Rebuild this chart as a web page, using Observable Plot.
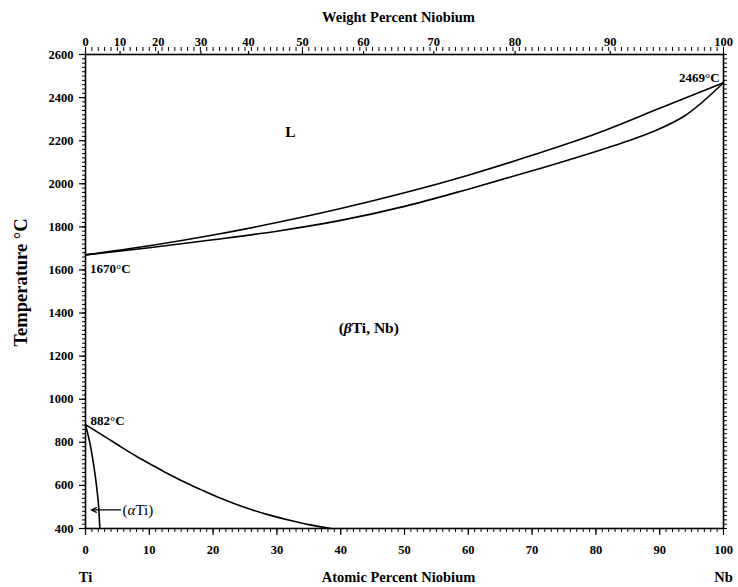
<!DOCTYPE html>
<html><head><meta charset="utf-8">
<script src="https://cdn.jsdelivr.net/npm/d3@7"></script>
<script src="https://cdn.jsdelivr.net/npm/@observablehq/plot@0.6"></script>
<style>
body{margin:0;background:#fff}
svg{display:block}
svg, svg text {font-family: "Liberation Serif", "Times New Roman", serif !important;}
</style>
</head><body><div id="chart"></div>
<script>
// Liquidus (upper curve)
const liqAt = [0, 10, 20, 30, 40, 50, 60, 70, 80, 90, 100];
const liqT  = [1670, 1712, 1762, 1820, 1885, 1958, 2040, 2132, 2232, 2350, 2469];
// Solidus (lower curve)
const solAt = [0, 10, 20, 30, 40, 50, 60, 70, 80, 85, 90, 94, 100];
const solT  = [1670, 1703, 1740, 1780, 1830, 1895, 1975, 2060, 2150, 2198, 2255, 2317, 2469];
// (betaTi) / (alphaTi)+(betaTi) transus
const transAt = [0, 2.9, 5.5, 8.1, 10.7, 13.3, 15.9, 18.5, 21.2, 23.8, 26.4, 29, 32, 35, 38.5];
const transT  = [882, 829, 780, 733, 690, 648, 610, 575, 540, 510, 484, 461, 438, 418, 400];
// (alphaTi) solvus
const solvAt = [0, 0.8, 1.4, 1.8, 2.1, 2.25];
const solvT  = [882, 780, 671, 579, 486, 400];

// Axis tick labels
const atTicks = [0, 10, 20, 30, 40, 50, 60, 70, 80, 90, 100];
const wtTicks = [0, 10, 20, 30, 40, 50, 60, 70, 80, 90, 100];
const tTicks  = [400, 600, 800, 1000, 1200, 1400, 1600, 1800, 2000, 2200, 2400, 2600];
const atMinor = d3.range(0, 101, 1);
const tMinor  = d3.range(400, 2601, 20);

// Annotations (data coordinates: at.% Nb, °C)
const startLabels = [
  {x: 0.7, y: 1603, text: "1670°C"},
  {x: 0.8, y: 899, text: "882°C"}
];
const endLabels = [{x: 99.4, y: 2490, text: "2469°C"}];
const phaseLabels = [
  {x: 32.1, y: 2240, text: "L"},
  {x: 44.4, y: 1331, text: "(βTi, Nb)"}
];
const alphaLabel = [{x: 5.8, y: 486, text: "(αTi)"}];
const alphaArrow = [{x1: 5.5, x2: 0.9, y: 486}];

// weight % -> atomic % (Ti 47.867, Nb 92.906)
const wtToAt = w => { const n = w / 92.906, t = (100 - w) / 47.867; return 100 * n / (n + t); };
const wtPos = wtTicks.map(wtToAt);
const wtLabel = new Map(wtPos.map((p, i) => [p, String(wtTicks[i])]));

const toPts = (xs, ys) => xs.map((x, i) => ({x, y: ys[i]}));
const curves = [toPts(liqAt, liqT), toPts(solAt, solT), toPts(transAt, transT), toPts(solvAt, solvT)];

const serif = "Liberation Serif, Times New Roman, serif";

const chart = Plot.plot({
  width: 738, height: 587,
  marginLeft: 85, marginRight: 15, marginTop: 54, marginBottom: 59,
  x: {domain: [0, 100]},
  y: {domain: [400, 2600]},
  style: {fontFamily: serif, fontWeight: "bold", fontSize: "12.5px", background: "#fff", color: "#000", overflow: "visible"},
  marks: [
    // axes
    Plot.axisX({anchor: "bottom", ticks: atMinor, tickSize: 4, fill: "none", tickFormat: () => "", label: null}),
    Plot.axisX({anchor: "bottom", ticks: atTicks, tickSize: 7, tickPadding: 10, tickFormat: d => String(d), label: null, strokeWidth: 1.2}),
    Plot.axisX({anchor: "top", ticks: atMinor, tickSize: 4, insetTop: -4, fill: "none", tickFormat: () => "", label: null}),
    Plot.axisX({anchor: "top", ticks: wtPos, tickFormat: d => wtLabel.get(d), tickSize: 4, tickPadding: 5, label: null, strokeWidth: 1.2}),
    Plot.axisY({anchor: "left", ticks: tMinor, tickSize: 3, fill: "none", tickFormat: () => "", label: null}),
    Plot.axisY({anchor: "left", ticks: tTicks, tickSize: 6, tickPadding: 6, tickFormat: d => String(d), label: null, strokeWidth: 1.2}),
    Plot.axisY({anchor: "right", ticks: tMinor, tickSize: 3, fill: "none", tickFormat: () => "", label: null}),
    Plot.frame({strokeWidth: 1.6}),
    // phase boundaries
    ...curves.map(c => Plot.line(c, {x: "x", y: "y", curve: "monotone-x", strokeWidth: 1.6})),
    // arrow to alpha field
    Plot.arrow(alphaArrow, {x1: "x1", x2: "x2", y1: "y", y2: "y", headLength: 7, headAngle: 50, strokeWidth: 1.2}),
    // annotations
    Plot.text(startLabels, {x: "x", y: "y", text: "text", textAnchor: "start", fontSize: 13, fontWeight: "bold"}),
    Plot.text(endLabels, {x: "x", y: "y", text: "text", textAnchor: "end", fontSize: 13, fontWeight: "bold"}),
    Plot.text(phaseLabels, {x: "x", y: "y", text: "text", fontSize: 15.5, fontWeight: "bold"}),
    Plot.text(alphaLabel, {x: "x", y: "y", text: "text", textAnchor: "start", fontSize: 15, fontWeight: "normal"}),
    // axis titles and end labels
    Plot.text(["Weight Percent Niobium"], {frameAnchor: "top", textAnchor: "middle", lineAnchor: "middle", dx: -6, dy: -37, fontSize: 14.5, fontWeight: "bold"}),
    Plot.text(["Atomic Percent Niobium"], {frameAnchor: "bottom", textAnchor: "middle", lineAnchor: "middle", dx: -6, dy: 49, fontSize: 14.5, fontWeight: "bold"}),
    Plot.text(["Temperature °C"], {frameAnchor: "left", textAnchor: "middle", lineAnchor: "middle", dx: -64, dy: -9, rotate: -90, fontSize: 18.5, fontWeight: "bold"}),
    Plot.text(["Ti"], {frameAnchor: "bottom-left", textAnchor: "middle", lineAnchor: "middle", dy: 49, fontSize: 14.5, fontWeight: "bold"}),
    Plot.text(["Nb"], {frameAnchor: "bottom-right", textAnchor: "middle", lineAnchor: "middle", dy: 49, fontSize: 14.5, fontWeight: "bold"})
  ]
});
document.getElementById("chart").append(chart);

// Italic Greek letters inside phase labels
d3.select(chart).selectAll("text").each(function () {
  const t = this.textContent;
  if (!/[αβ]/.test(t) || this.querySelector("tspan")) return;
  const sel = d3.select(this);
  sel.text(null);
  for (const part of t.split(/([αβ])/)) {
    if (!part) continue;
    const s = sel.append("tspan").text(part);
    if (/[αβ]/.test(part)) s.attr("font-style", "italic");
  }
});
</script>
</body></html>
